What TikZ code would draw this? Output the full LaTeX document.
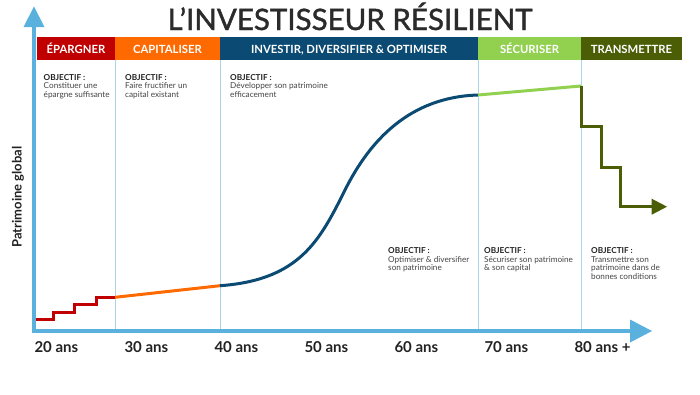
\documentclass[tikz,border=0pt]{standalone}
\usepackage{fontspec}
\setmainfont{Lato}
\newfontfamily\titlefont[FakeBold=1.3]{Lato}
\definecolor{axisblue}{HTML}{5BB1DD}
\definecolor{sepblue}{HTML}{A9D6EE}
\definecolor{cred}{HTML}{C00000}
\definecolor{corange}{HTML}{FF6A00}
\definecolor{cblue}{HTML}{0B4A72}
\definecolor{cgreen}{HTML}{92D050}
\definecolor{colive}{HTML}{4B5E06}
\definecolor{txt}{HTML}{222222}
\definecolor{titlegray}{HTML}{2B2B2B}
\definecolor{objtxt}{HTML}{444444}
\begin{document}
\begin{tikzpicture}[x=1pt,y=-1pt,
  band/.style={draw=none, minimum height=23pt, inner sep=0pt, anchor=north west},
  bandtxt/.style={text=white, font=\fontsize{11.3}{13}\selectfont\bfseries, anchor=base, inner sep=0pt},
  obj/.style={anchor=north west, inner sep=0pt, align=left, font=\fontsize{8.2}{8.6}\selectfont, text=objtxt},
  agelbl/.style={anchor=base west, inner sep=0pt, font=\fontsize{15}{16}\selectfont\bfseries, text=txt},
  sep/.style={draw=sepblue, line width=1pt},
  curve/.style={line width=3pt, line join=miter}
]
\useasboundingbox (0,0) rectangle (700,394);
% title
\node[anchor=base, inner sep=0pt, font=\fontsize{29.5}{32}\titlefont, text=titlegray] (title) at (350,30) {L’INVESTISSEUR RÉSILIENT};
% header bands
\node[band, fill=cred, minimum width=78pt] (b1) at (37,37) {};
\node[band, fill=corange, minimum width=105pt] (b2) at (115,37) {};
\node[band, fill=cblue, minimum width=258pt] (b3) at (220,37) {};
\node[band, fill=cgreen, minimum width=103pt] (b4) at (478,37) {};
\node[band, fill=colive, minimum width=101pt] (b5) at (581,37) {};
\node[bandtxt] (t1) at (76,53) {ÉPARGNER};
\node[bandtxt] (t2) at (167.5,53) {CAPITALISER};
\node[bandtxt] (t3) at (349,53) {INVESTIR, DIVERSIFIER \& OPTIMISER};
\node[bandtxt] (t4) at (529.5,53) {SÉCURISER};
\node[bandtxt] (t5) at (631.5,53) {TRANSMETTRE};
% separators
\draw[sep] (115,60) -- (115,331);
\draw[sep] (220,60) -- (220,331);
\draw[sep] (478,60) -- (478,331);
\draw[sep] (581,60) -- (581,331);
% axes
\draw[axisblue, line width=4pt] (34,333) -- (34,26);
\fill[axisblue] (23.5,27) -- (34,6.5) -- (44.5,27) -- cycle;
\draw[axisblue, line width=4pt] (32,331) -- (631,331);
\fill[axisblue] (630,319.5) -- (652,331) -- (630,342.5) -- cycle;
% curve
\draw[cred, curve] (36,319) -- (53.3,319) -- (53.3,312.3) -- (74,312.3) -- (74,304.7) -- (96,304.7) -- (96,297.3) -- (115,297.3);
\draw[corange, curve] (115,297.3) -- (220,285.7);
\draw[cblue, curve] (220,285.7) .. controls (300,280) and (320,240) .. (345,190) .. controls (370,140) and (410,97) .. (478,95);
\draw[cgreen, curve] (478,95) -- (581,86);
\draw[colive, curve] (581,86) -- (581,126) -- (601,126) -- (601,167.3) -- (620,167.3) -- (620,206.7) -- (653,206.7);
\fill[colive] (651.7,198.7) -- (667,206.7) -- (651.7,214.7) -- cycle;
% objectives
\node[obj] (o1) at (43.5,74) {\textbf{\textcolor{txt}{OBJECTIF :}}\\Constituer une\\épargne suffisante};
\node[obj] (o2) at (125,74) {\textbf{\textcolor{txt}{OBJECTIF :}}\\Faire fructifier un\\capital existant};
\node[obj] (o3) at (230,74) {\textbf{\textcolor{txt}{OBJECTIF :}}\\Développer son patrimoine\\efficacement};
\node[obj] (o4) at (388,247.5) {\textbf{\textcolor{txt}{OBJECTIF :}}\\Optimiser \& diversifier\\son patrimoine};
\node[obj] (o5) at (484,247.5) {\textbf{\textcolor{txt}{OBJECTIF :}}\\Sécuriser son patrimoine\\\& son capital};
\node[obj] (o6) at (591,247.5) {\textbf{\textcolor{txt}{OBJECTIF :}}\\Transmettre son\\patrimoine dans de\\bonnes conditions};
% ages
\node[agelbl] (a20) at (34.3,352.7) {20 ans};
\node[agelbl] (a30) at (124.3,352.7) {30 ans};
\node[agelbl] (a40) at (214.3,352.7) {40 ans};
\node[agelbl] (a50) at (304.3,352.7) {50 ans};
\node[agelbl] (a60) at (394.3,352.7) {60 ans};
\node[agelbl] (a70) at (484.3,352.7) {70 ans};
\node[agelbl] (a80) at (574.3,352.7) {80 ans +};
% y label
\node[rotate=90, inner sep=0pt, font=\fontsize{13}{15}\selectfont\bfseries, text=txt] (yl) at (18,197) {Patrimoine global};
\end{tikzpicture}
\end{document}
